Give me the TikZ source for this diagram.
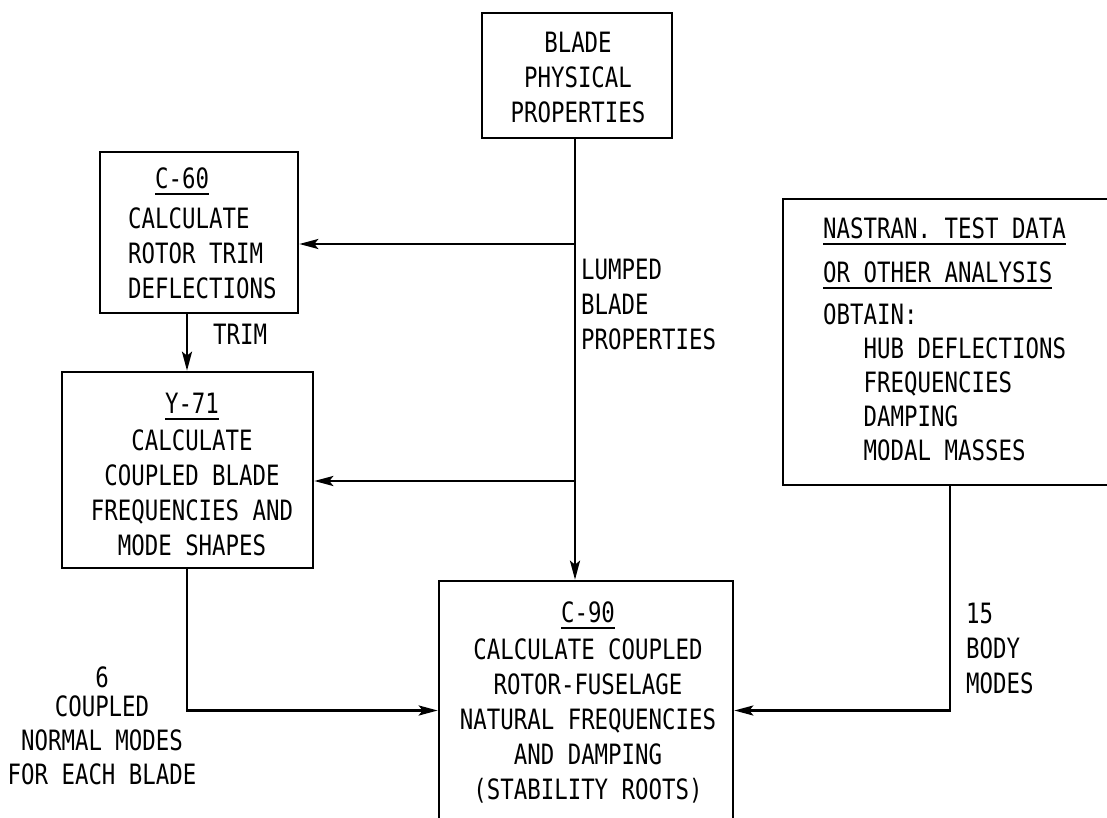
\documentclass[tikz,border=0pt]{standalone}
\usepackage{fontspec}
\newfontfamily\lettering[FakeStretch=0.8]{DejaVu Sans Mono}
\usetikzlibrary{arrows.meta}
\newsavebox\ulbox
\newcommand{\ulin}[1]{\sbox\ulbox{#1}\rlap{\rule[-6pt]{\wd\ulbox}{2pt}}\usebox\ulbox}
\begin{document}
\begin{tikzpicture}[x=1pt,y=-1pt,
  box/.style={draw,line width=2.6pt,inner sep=0pt},
  txt/.style={inner sep=0pt,font=\lettering\fontsize{28}{35}\selectfont},
  txtb/.style={inner sep=0pt,font=\lettering\fontsize{28}{34}\selectfont},
  arr/.style={line width=2.6pt,-{Stealth[length=19pt,width=10pt,inset=4pt]}}]
\useasboundingbox (0,0) rectangle (1107,818);
% boxes
\node[box,minimum width=190pt,minimum height=125pt] (blade) at (577,75.5) {};
\node[box,minimum width=198pt,minimum height=161pt] (c60) at (199,232.5) {};
\node[box,minimum width=251pt,minimum height=196pt] (y71) at (187.5,470) {};
\node[box,minimum width=294pt,minimum height=259pt] (c90) at (586,710.5) {};
\node[box,minimum width=347pt,minimum height=286pt] (nas) at (956.5,342) {};
% box texts
\node[txt,align=center,anchor=north] (bladetxt) at (578,32) {BLADE\\PHYSICAL\\PROPERTIES};
\node[txt,align=left,anchor=north west] (c60txt) at (128,168) {\hspace*{27pt}\ulin{C-60}\\[5pt]CALCULATE\\ROTOR TRIM\\DEFLECTIONS};
\node[txt,align=center,anchor=north] (y71txt) at (192,393) {\ulin{Y-71}\\[2pt]CALCULATE\\COUPLED BLADE\\FREQUENCIES AND\\MODE SHAPES};
\node[txt,align=center,anchor=north] (c90txt) at (588,602) {\ulin{C-90}\\[2pt]CALCULATE COUPLED\\ROTOR-FUSELAGE\\NATURAL FREQUENCIES\\AND DAMPING\\(STABILITY ROOTS)};
\node[txtb,align=left,anchor=north west] (nastxt) at (823,218) {\ulin{NASTRAN. TEST DATA}\\[10pt]\ulin{OR OTHER ANALYSIS}\\[8pt]OBTAIN:\\\hspace*{40.5pt}HUB DEFLECTIONS\\\hspace*{40.5pt}FREQUENCIES\\\hspace*{40.5pt}DAMPING\\\hspace*{40.5pt}MODAL MASSES};
% connector labels
\node[txt,anchor=base west] (trim) at (213,344) {TRIM};
\node[txt,align=left,anchor=north west] (lumped) at (581,259) {LUMPED\\BLADE\\PROPERTIES};
\node[txtb,align=center,anchor=north] (six) at (102,667) {6\\[-5pt]COUPLED\\NORMAL MODES\\FOR EACH BLADE};
\node[txt,align=left,anchor=north west] (fifteen) at (966,603) {15\\BODY\\MODES};
% helper coordinates
\coordinate (trunk) at (575,0);
\coordinate (j1) at (575,244);
\coordinate (j2) at (575,481);
\coordinate (t1) at (187,0);
\coordinate (t2) at (950,0);
% connectors
\draw[arr] (blade.south -| trunk) -- (c90.north -| trunk);
\draw[arr] (j1) -- (j1 -| c60.east);
\draw[arr] (j2) -- (j2 -| y71.east);
\draw[arr] (c60.south -| t1) -- (y71.north -| t1);
\draw[arr] (y71.south -| t1) |- (c90.west);
\draw[arr] (nas.south -| t2) |- (c90.east);
\end{tikzpicture}
\end{document}
